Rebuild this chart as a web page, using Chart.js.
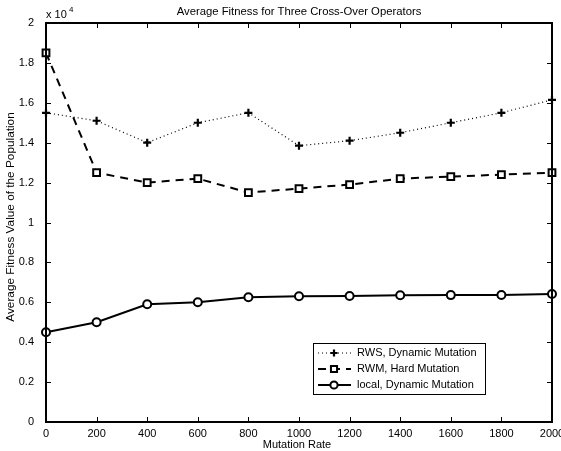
<!DOCTYPE html>
<html><head><meta charset="utf-8">
<script src="https://cdn.jsdelivr.net/npm/chart.js@4/dist/chart.umd.min.js"></script>
<style>html,body{margin:0;padding:0;background:#fff}#wrap{width:561px;height:451px;position:relative}</style>
</head><body><div id="wrap"><canvas id="c" width="561" height="451"></canvas></div>
<script>
const mutationRates = [0, 200, 400, 600, 800, 1000, 1200, 1400, 1600, 1800, 2000];
const rwsDynamic = [15500, 15100, 14000, 15000, 15500, 13850, 14100, 14500, 15000, 15500, 16150];
const rwmHard = [18500, 12500, 12000, 12200, 11500, 11700, 11900, 12200, 12300, 12400, 12500];
const localDynamic = [4500, 5000, 5900, 6000, 6250, 6300, 6320, 6350, 6360, 6370, 6420];
const seriesNames = ['RWS, Dynamic Mutation', 'RWM, Hard Mutation', 'local, Dynamic Mutation'];
const xTicks = [0, 200, 400, 600, 800, 1000, 1200, 1400, 1600, 1800, 2000];
const yTicks = [0, 2000, 4000, 6000, 8000, 10000, 12000, 14000, 16000, 18000, 20000];
const yTickLabels = ['0', '0.2', '0.4', '0.6', '0.8', '1', '1.2', '1.4', '1.6', '1.8', '2'];
const titleText = 'Average Fitness for Three Cross-Over Operators';
const xTitle = 'Mutation Rate';
const yTitle = 'Average Fitness Value of the Population';
const FONT = '"Liberation Sans", Arial, Helvetica, sans-serif';

const toPts = arr => arr.map((v, i) => ({x: mutationRates[i], y: v}));

const framePlugin = {
  id: 'frame',
  afterDatasetsDraw(chart) {
    const ctx = chart.ctx, a = chart.chartArea;
    const xs = chart.scales.x, ys = chart.scales.y;
    ctx.save();
    ctx.strokeStyle = '#000';
    ctx.lineWidth = 1;
    ctx.beginPath();
    const tl = 5;
    xTicks.forEach(v => {
      const px = Math.round(xs.getPixelForValue(v)) + 0.5;
      ctx.moveTo(px, a.bottom); ctx.lineTo(px, a.bottom - tl);
      ctx.moveTo(px, a.top); ctx.lineTo(px, a.top + tl);
    });
    yTicks.forEach(v => {
      const py = Math.round(ys.getPixelForValue(v)) + 0.5;
      ctx.moveTo(a.left, py); ctx.lineTo(a.left + tl, py);
      ctx.moveTo(a.right, py); ctx.lineTo(a.right - tl, py);
    });
    ctx.stroke();
    ctx.lineWidth = 2;
    ctx.strokeRect(a.left, a.top, a.right - a.left, a.bottom - a.top);
    ctx.fillStyle = '#000';
    ctx.font = '11.3px ' + FONT;
    ctx.textAlign = 'center'; ctx.textBaseline = 'middle';
    ctx.fillText(titleText, (a.left + a.right) / 2, 12);
    ctx.textAlign = 'left';
    ctx.font = '11px ' + FONT;
    ctx.fillText('x 10', a.left, 15);
    ctx.font = '8px ' + FONT;
    ctx.fillText('4', a.left + 23, 10);
    ctx.font = '11px ' + FONT;
    ctx.textAlign = 'center';
    ctx.fillText(xTitle, 297, 445);
    ctx.save();
    ctx.translate(11, 217);
    ctx.rotate(-Math.PI / 2);
    ctx.font = '11.8px ' + FONT;
    ctx.fillText(yTitle, 0, 0);
    ctx.restore();
    // legend
    const bx = a.right - 239, by = a.bottom - 79, bw = 172, bh = 51;
    ctx.fillStyle = '#fff';
    ctx.fillRect(bx, by, bw, bh);
    ctx.lineWidth = 1;
    ctx.strokeStyle = '#000';
    ctx.strokeRect(bx + 0.5, by + 0.5, bw, bh);
    chart.data.datasets.forEach((ds, i) => {
      const ly = by + 10 + i * 16;
      ctx.save();
      ctx.strokeStyle = '#000';
      ctx.lineWidth = ds.borderWidth;
      ctx.setLineDash(ds.borderDash || []);
      ctx.beginPath();
      ctx.moveTo(bx + 5, ly); ctx.lineTo(bx + 38, ly);
      ctx.stroke();
      ctx.setLineDash([]);
      ctx.lineWidth = ds.pointBorderWidth;
      ctx.fillStyle = ds.pointBackgroundColor;
      ctx.strokeStyle = '#000';
      Chart.helpers.drawPoint(ctx, {pointStyle: ds.pointStyle, rotation: 0, radius: ds.pointRadius * 0.9, borderWidth: ds.pointBorderWidth}, bx + 21, ly);
      ctx.restore();
      ctx.fillStyle = '#000';
      ctx.font = '11px ' + FONT;
      ctx.textAlign = 'left'; ctx.textBaseline = 'middle';
      ctx.fillText(seriesNames[i], bx + 44, ly);
    });
    ctx.restore();
  }
};

new Chart(document.getElementById('c'), {
  type: 'line',
  data: {
    datasets: [
      {label: seriesNames[0], data: toPts(rwsDynamic), borderColor: '#000', borderWidth: 1.2, borderDash: [1, 3],
       pointStyle: 'cross', pointRadius: 4, pointBorderWidth: 2.2, pointBorderColor: '#000', pointBackgroundColor: '#fff'},
      {label: seriesNames[1], data: toPts(rwmHard), borderColor: '#000', borderWidth: 2, borderDash: [8, 6],
       pointStyle: 'rect', pointRadius: 4.8, pointBorderWidth: 2, pointBorderColor: '#000', pointBackgroundColor: '#fff'},
      {label: seriesNames[2], data: toPts(localDynamic), borderColor: '#000', borderWidth: 2,
       pointStyle: 'circle', pointRadius: 4, pointBorderWidth: 2, pointBorderColor: '#000', pointBackgroundColor: '#fff'}
    ]
  },
  options: {
    responsive: false,
    animation: false,
    clip: false,
    tension: 0,
    layout: {padding: {top: 23, right: 9, left: 0, bottom: 0}},
    plugins: {legend: {display: false}, title: {display: false}, tooltip: {enabled: false}},
    scales: {
      x: {
        type: 'linear', min: 0, max: 2000,
        afterBuildTicks: s => { s.ticks = xTicks.map(v => ({value: v})); },
        afterFit: s => { s.height = 29; s.paddingLeft = 0; s.paddingRight = 0; },
        grid: {display: false}, border: {display: false},
        ticks: {color: '#000', font: {family: FONT, size: 11}, padding: -3, maxRotation: 0, autoSkip: false,
                callback: v => String(v)}
      },
      y: {
        type: 'linear', min: 0, max: 20000,
        afterBuildTicks: s => { s.ticks = yTicks.map(v => ({value: v})); },
        afterFit: s => { s.width = 46; s.paddingTop = 0; s.paddingBottom = 0; },
        grid: {display: false}, border: {display: false},
        ticks: {color: '#000', font: {family: FONT, size: 11}, padding: 4,
                callback: v => yTickLabels[yTicks.indexOf(v)]}
      }
    }
  },
  plugins: [framePlugin]
});
</script></body></html>
